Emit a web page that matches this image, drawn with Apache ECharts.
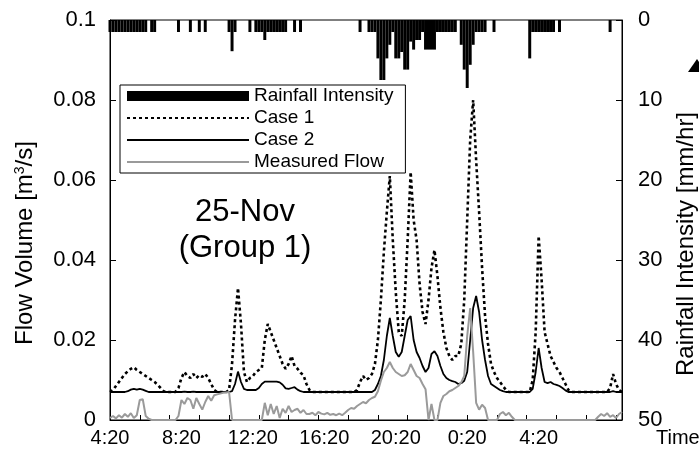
<!DOCTYPE html>
<html>
<head>
<meta charset="utf-8">
<script src="https://cdn.jsdelivr.net/npm/echarts@6/dist/echarts.min.js"></script>
<style>
  html, body { margin: 0; padding: 0; background: #fff; }
  #chart { width: 699px; height: 457px; }
</style>
</head>
<body>
<div id="chart"></div>
<script>
// Time axis: one category every 10 minutes starting at 4:20
const startMinute = 4 * 60 + 20;
const stepMinutes = 10;
const pointCount = 173;
const timeLabels = [];
for (let i = 0; i < pointCount; i++) {
  const m = (startMinute + i * stepMinutes) % (24 * 60);
  timeLabels.push(Math.floor(m / 60) + ':' + String(m % 60).padStart(2, '0'));
}

// Rainfall intensity [mm/hr], per 10-minute step
const rainfall = [
  1.5,1.5,1.5,1.5,1.5,1.5,1.5,1.5,1.5,1.5,
  1.5,1.5,1.5,0,1.5,1.5,0,0,0,0,
  0,0,0,1.5,0,0,0,1.5,0,0,
  1.5,0,1.5,0,0,0,0,0,0,0,
  1.5,3.9,1.5,0,0,0,0,1.5,0,1.5,
  1.5,1.5,2.5,1.5,1.5,1.5,1.5,1.5,1.5,1.5,
  0,0,1.5,0,1.5,0,0,0,0,0,
  0,0,0,0,0,0,0,0,0,0,
  0,0,0,0,1.5,0,0,1.5,1.5,1.5,
  4.8,7.5,7.5,4.8,3.1,1.5,4.8,4.8,4.0,6.2,
  6.2,2.7,3.7,2.5,2.5,1.5,3.7,3.7,3.7,3.7,
  1.5,1.5,1.5,1.5,1.5,1.5,1.5,0,3.1,6.2,
  8.5,5.6,3.1,1.5,1.5,1.5,1.5,0,0,1.5,
  0,0,0,0,0,0,0,0,0,0,
  0,4.8,1.5,1.5,1.5,1.5,1.5,1.5,1.5,1.5,
  0,1.5,0,0,0,0,0,0,0,0,
  0,0,0,0,0,0,0,0,1.5,0,
  0,0,0
];

// Simulated flow, Case 1 [m3/s]
const case1 = [
  0.007,0.0075,0.0085,0.0095,0.0105,0.0115,0.0122,0.0128,0.0132,0.0125,
  0.012,0.0115,0.011,0.0105,0.01,0.0095,0.0088,0.008,0.0072,0.007,
  0.007,0.007,0.007,0.008,0.0105,0.012,0.011,0.0105,0.0115,0.0105,
  0.0112,0.0108,0.0115,0.0105,0.009,0.0075,0.007,0.007,0.007,0.007,
  0.0075,0.014,0.025,0.033,0.024,0.012,0.0095,0.0105,0.011,0.012,
  0.0125,0.013,0.02,0.024,0.022,0.02,0.018,0.016,0.014,0.0128,
  0.014,0.016,0.0135,0.0128,0.0118,0.0112,0.009,0.0075,0.007,0.007,
  0.007,0.007,0.007,0.007,0.007,0.007,0.007,0.007,0.007,0.007,
  0.007,0.007,0.007,0.0075,0.0095,0.011,0.01,0.0105,0.0115,0.014,
  0.02,0.03,0.042,0.052,0.061,0.045,0.032,0.022,0.021,0.03,
  0.045,0.062,0.05,0.045,0.034,0.027,0.024,0.03,0.038,0.0425,
  0.036,0.028,0.022,0.018,0.016,0.015,0.016,0.016,0.019,0.03,
  0.05,0.07,0.08,0.065,0.052,0.038,0.026,0.019,0.014,0.012,
  0.0105,0.0095,0.0085,0.0075,0.007,0.007,0.007,0.007,0.007,0.007,
  0.007,0.007,0.01,0.022,0.046,0.035,0.022,0.019,0.016,0.0145,
  0.013,0.012,0.0105,0.009,0.0075,0.007,0.007,0.007,0.007,0.007,
  0.007,0.007,0.007,0.007,0.007,0.007,0.007,0.007,0.008,0.0115,
  0.009,0.0075,0.007
];

// Simulated flow, Case 2 [m3/s]
const case2 = [
  0.007,0.007,0.007,0.007,0.007,0.007,0.0072,0.0076,0.0078,0.0076,
  0.0078,0.0076,0.0073,0.007,0.007,0.007,0.007,0.007,0.007,0.007,
  0.007,0.007,0.007,0.007,0.007,0.0071,0.007,0.007,0.0071,0.007,
  0.007,0.007,0.007,0.007,0.007,0.007,0.007,0.007,0.007,0.007,
  0.007,0.0072,0.009,0.0121,0.0095,0.0078,0.0075,0.0075,0.0075,0.0075,
  0.008,0.009,0.0096,0.0096,0.0096,0.0096,0.0096,0.0094,0.0088,0.0079,
  0.0078,0.008,0.0082,0.0076,0.0072,0.007,0.007,0.007,0.007,0.007,
  0.007,0.007,0.007,0.007,0.007,0.007,0.007,0.007,0.007,0.007,
  0.007,0.007,0.007,0.007,0.007,0.007,0.007,0.007,0.007,0.0075,
  0.009,0.011,0.015,0.021,0.0255,0.021,0.017,0.0158,0.017,0.021,
  0.025,0.026,0.02,0.017,0.0155,0.0135,0.012,0.013,0.0165,0.0172,
  0.016,0.0135,0.0115,0.0105,0.01,0.0097,0.0095,0.009,0.0092,0.0098,
  0.012,0.02,0.028,0.031,0.027,0.02,0.015,0.011,0.009,0.0085,
  0.008,0.0075,0.0072,0.007,0.007,0.007,0.007,0.007,0.007,0.007,
  0.007,0.007,0.0078,0.012,0.018,0.013,0.0095,0.0092,0.0095,0.009,
  0.0088,0.0085,0.008,0.0074,0.007,0.007,0.007,0.007,0.007,0.007,
  0.007,0.007,0.007,0.007,0.007,0.007,0.007,0.007,0.007,0.0072,
  0.007,0.007,0.007
];

// Measured flow [m3/s]
const measured = [
  0.0005,0.001,0.0004,0.0012,0.0006,0.0015,0.0008,0.0017,0.0005,0.0012,
  0.005,0.0052,0.001,0.0003,0,0,0,0,0,0,
  0,0,0,0.001,0.005,0.004,0.0055,0.005,0.0028,0.0055,
  0.004,0.0026,0.0045,0.006,0.0048,0.0062,0.0064,0.0066,0.0068,0.0069,
  0.007,0,0,0,0,0,0,0,0,0,
  0,0,0.0043,0.0012,0.004,0.0015,0.0035,0.0005,0.0028,0.0018,
  0.0035,0.002,0.0025,0.0028,0.0018,0.0025,0.0015,0.0015,0.0018,0.0012,
  0.002,0.0016,0.0014,0.0018,0.0013,0.0015,0.0012,0.0016,0.0012,0.0018,
  0.0025,0.003,0.0028,0.0035,0.004,0.0045,0.0042,0.005,0.0055,0.0058,
  0.0072,0.0098,0.012,0.013,0.0145,0.013,0.012,0.0115,0.011,0.0112,
  0.012,0.014,0.0125,0.011,0.0105,0.009,0.0077,0,0.004,0,
  0,0.0043,0.006,0.0065,0.0072,0.0075,0.008,0.0085,0.0094,0.011,
  0.021,0.028,0.017,0.0043,0.0026,0.0038,0.003,0,0,0,
  0,0.0015,0.002,0.0012,0.0018,0.0008,0,0,0,0,
  0,0,0,0,0,0,0,0,0,0,
  0,0,0,0,0,0,0,0,0,0,
  0,0,0,0,0.0008,0.0015,0.001,0.0017,0.0008,0.0012,
  0.0005,0.0015,0.002
];

const flowTicks = [0, 0.02, 0.04, 0.06, 0.08, 0.1];
const rainTicks = [0, 10, 20, 30, 40, 50];

const FONT = 'Liberation Sans, Arial, sans-serif';
const hiddenMarker = { opacity: 0, borderWidth: 0 };
const chart = echarts.init(document.getElementById('chart'), null, { renderer: 'canvas' });

chart.setOption({
  animation: false,
  backgroundColor: '#fff',
  grid: { left: 110, right: 77, top: 20, bottom: 37, show: true, borderColor: '#000', borderWidth: 1, backgroundColor: 'transparent' },
  legend: {
    orient: 'vertical',
    left: 120, top: 85,
    padding: [1, 12, 1, 6],
    itemWidth: 122, itemHeight: 10, itemGap: 2,
    backgroundColor: '#fff', borderColor: '#000', borderWidth: 1, borderRadius: 0,
    textStyle: { fontFamily: FONT, fontSize: 19, color: '#000', lineHeight: 20 },
    data: [
      { name: 'Rainfall Intensity', icon: 'rect' },
      { name: 'Case 1', itemStyle: hiddenMarker },
      { name: 'Case 2', itemStyle: hiddenMarker },
      { name: 'Measured Flow', itemStyle: hiddenMarker }
    ]
  },
  xAxis: {
    type: 'category',
    data: timeLabels,
    boundaryGap: false,
    axisLine: { lineStyle: { color: '#000', width: 1 } },
    axisTick: { inside: true, length: 5, interval: 9, lineStyle: { color: '#000' } },
    axisLabel: {
      interval: (idx) => idx % 24 === 0 && idx < 160,
      color: '#000', fontFamily: FONT, fontSize: 20, margin: 8
    },
    splitLine: { show: false }
  },
  yAxis: [
    {
      type: 'value', min: flowTicks[0], max: flowTicks[flowTicks.length - 1], interval: 0.02,
      axisLine: { show: true, lineStyle: { color: '#000' } },
      axisTick: { show: true, inside: true, length: 6, lineStyle: { color: '#000' } },
      axisLabel: { color: '#000', fontFamily: FONT, fontSize: 22, margin: 14,
        formatter: (v) => String(+v.toFixed(2)) },
      splitLine: { show: false }
    },
    {
      type: 'value', position: 'right', inverse: true,
      min: rainTicks[0], max: rainTicks[rainTicks.length - 1], interval: 10,
      axisLine: { show: true, lineStyle: { color: '#000' } },
      axisTick: { show: true, inside: true, length: 6, lineStyle: { color: '#000' } },
      axisLabel: { color: '#000', fontFamily: FONT, fontSize: 22, margin: 16 },
      splitLine: { show: false }
    }
  ],
  series: [
    {
      name: 'Rainfall Intensity', type: 'bar', yAxisIndex: 1,
      data: rainfall, barWidth: '100%',
      itemStyle: { color: '#000' }
    },
    {
      name: 'Case 1', type: 'line', data: case1, symbol: 'none',
      lineStyle: { color: '#000', width: 2.6, type: [3, 3], cap: 'butt' },
      itemStyle: { color: '#000' }
    },
    {
      name: 'Case 2', type: 'line', data: case2, symbol: 'none',
      lineStyle: { color: '#000', width: 1.8 },
      itemStyle: { color: '#000' }
    },
    {
      name: 'Measured Flow', type: 'line', data: measured, symbol: 'none',
      lineStyle: { color: '#9a9a9a', width: 2 },
      itemStyle: { color: '#9a9a9a' }
    }
  ],
  graphic: [
    {
      type: 'text', x: 25, y: 243, rotation: Math.PI / 2,
      style: {
        text: 'Flow Volume [m{sup|3}/s]', fill: '#000', font: '24px ' + FONT,
        align: 'center', verticalAlign: 'middle',
        rich: { sup: { fontSize: 14, verticalAlign: 'top', padding: [0, 0, 9, 0], fontFamily: FONT, fill: '#000' } }
      }
    },
    {
      type: 'text', x: 686, y: 244, rotation: Math.PI / 2,
      style: { text: 'Rainfall Intensity [mm/hr]', fill: '#000', font: '24px ' + FONT, align: 'center', verticalAlign: 'middle' }
    },
    {
      type: 'text', x: 656, y: 438,
      style: { text: 'Time', fill: '#000', font: '20px ' + FONT, align: 'left', verticalAlign: 'middle' }
    },
    {
      type: 'text', x: 245, y: 212,
      style: { text: '25-Nov', fill: '#000', font: '31px ' + FONT, align: 'center', verticalAlign: 'middle' }
    },
    {
      type: 'text', x: 245, y: 248,
      style: { text: '(Group 1)', fill: '#000', font: '31px ' + FONT, align: 'center', verticalAlign: 'middle' }
    },
    {
      type: 'polygon',
      shape: { points: [[688, 72], [697, 59], [706, 72]] },
      style: { fill: '#000' }
    }
  ]
});
</script>
</body>
</html>
